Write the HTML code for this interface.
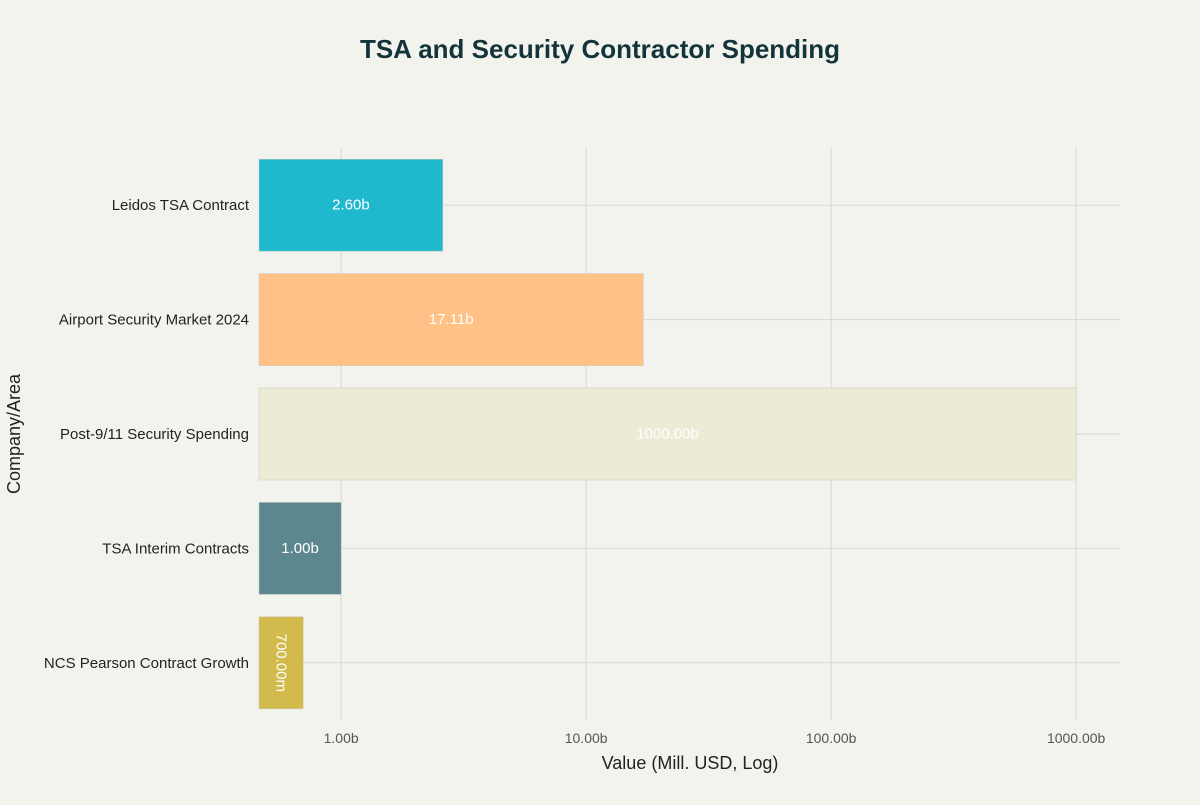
<!DOCTYPE html>
<html><head><meta charset="utf-8"><style>
body{margin:0;background:#f3f3ee;font-family:"Liberation Sans",sans-serif}
svg text{font-family:"Liberation Sans",sans-serif}
</style></head><body>
<svg id="c" width="1200" height="800">
<rect width="1200" height="800" fill="#f3f3ee"/>
<text x="600" y="58" text-anchor="middle" font-size="26" font-weight="bold" fill="#13343b">TSA and Security Contractor Spending</text>
<g id="grid"></g><g id="bars"></g><g id="axes"></g>
<text x="690" y="769" text-anchor="middle" font-size="18" fill="#222">Value (Mill. USD, Log)</text>
<text transform="translate(20,434) rotate(-90)" text-anchor="middle" font-size="18" fill="#222">Company/Area</text>
</svg>
<script>
const categories=["Leidos TSA Contract","Airport Security Market 2024","Post-9/11 Security Spending","TSA Interim Contracts","NCS Pearson Contract Growth"];
const values=[2600,17110,1000000,1000,700];
const labels=["2.60b","17.11b","1000.00b","1.00b","700.00m"];
const colors=["#1FB8CD","#FFC185","#ECEBD5","#5D878F","#D2BA4C"];
const tickValues=[1000,10000,100000,1000000];
const tickLabels=["1.00b","10.00b","100.00b","1000.00b"];
const NS="http://www.w3.org/2000/svg";
const x0=259,x1=1120,plotTop=148,plotBottom=720;
const logMin=Math.log10(462),logMax=Math.log10(1510000);
const xs=v=>x0+(Math.log10(v)-logMin)/(logMax-logMin)*(x1-x0);
const band=(plotBottom-plotTop)/categories.length;
const ys=i=>plotTop+band*(i+0.5);
function mk(tag,attrs,parent,txt){const e=document.createElementNS(NS,tag);for(const k in attrs)e.setAttribute(k,attrs[k]);if(txt!=null)e.textContent=txt;document.getElementById(parent).appendChild(e);return e;}
tickValues.forEach((v,i)=>{
 const g=mk('line',{x1:xs(v),x2:xs(v),y1:plotTop,y2:plotBottom,stroke:"#d8d6d0","stroke-width":1},'grid');
 
 
 const t=mk('text',{x:xs(v),y:743,"text-anchor":"middle","font-size":14,fill:"#555"},'axes',tickLabels[i]);
 
 
});
categories.forEach((c,i)=>{
 const y=ys(i);
 const g=mk('line',{x1:x0,x2:x1,y1:y,y2:y,stroke:"#d8d6d0","stroke-width":1},'grid');
 
 
 const b=mk('rect',{x:x0,y:y-46,width:xs(values[i])-x0,height:92,fill:colors[i],stroke:"#c9c7bd","stroke-width":0.5},'bars');
 
 
 const cx=(x0+xs(values[i]))/2;
 let t;
 if(i===4){t=mk('text',{x:cx,y:y,transform:`rotate(90 ${cx} ${y})`,"text-anchor":"middle","dominant-baseline":"central","font-size":15,fill:"#fff"},'bars',labels[i]);}
 else{t=mk('text',{x:cx,y:y,"text-anchor":"middle","dominant-baseline":"central","font-size":15,fill:"#fff"},'bars',labels[i]);}
 
 
 const l=mk('text',{x:249,y:y+5,"text-anchor":"end","font-size":15,fill:"#222"},'axes',c);
 
 
});
</script>
</body></html>
